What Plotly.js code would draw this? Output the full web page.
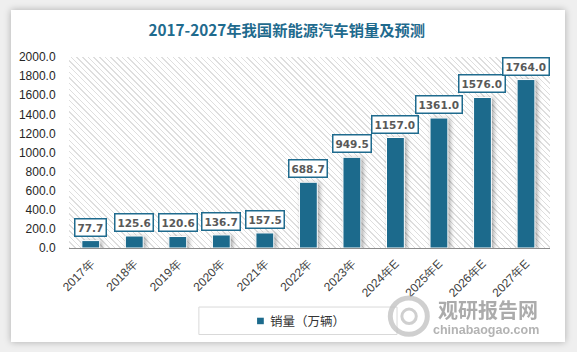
<!DOCTYPE html>
<html>
<head>
<meta charset="utf-8">
<script src="https://cdn.plot.ly/plotly-3.0.1.min.js"></script>
<style>
  html, body { margin:0; padding:0; background:#efefef; width:577px; height:352px; overflow:hidden; }
  #card { position:absolute; left:11px; top:10px; width:554px; height:332px; background:#ffffff;
          box-shadow: 0 0 7px rgba(0,0,0,0.28); }
  #hatch { position:absolute; left:69px; top:57px; width:481px; height:191px;
           background: repeating-linear-gradient(45deg, #d6d6d6 0px, #d6d6d6 1px, rgba(255,255,255,0) 1px, rgba(255,255,255,0) 4px); opacity:0.8; }
  #chart { position:absolute; left:0; top:0; width:577px; height:352px; }
  #chart .bars .point path { filter: drop-shadow(2px 1px 2px rgba(0,0,0,0.35)); }
</style>
</head>
<body>
<div id="card"></div>
<div id="hatch"></div>
<div id="chart"></div>
<script>
const categories = ["2017年","2018年","2019年","2020年","2021年","2022年","2023年","2024年E","2025年E","2026年E","2027年E"];
const sales = [77.7, 125.6, 120.6, 136.7, 157.5, 688.7, 949.5, 1157.0, 1361.0, 1576.0, 1764.0];
const seriesName = "销量（万辆）";
const titleText = "2017-2027年我国新能源汽车销量及预测";

const barColor = "#1c6a8c";

const trace = {
  type: "bar",
  x: categories,
  y: sales,
  name: seriesName,
  width: 0.41,
  marker: { color: barColor, line: { color: "#ffffff", width: 1 } },
  showlegend: false,
  hoverinfo: "x+y"
};

const labelAnns = categories.map((c, i) => ({
  x: c, y: sales[i], xref: "x", yref: "y",
  text: sales[i].toFixed(1),
  showarrow: false, yanchor: "bottom", yshift: 4,
  font: { family: "DejaVu Sans", size: 10.5, color: "#595959", weight: "bold" },
  bgcolor: "#ffffff", bordercolor: "#1f6b8e", borderwidth: 1.5, borderpad: 2
}));

const legendAnn = {
  xref: "paper", yref: "paper", x: 0.414, y: -0.38, xanchor: "left", yanchor: "middle",
  text: seriesName, showarrow: false,
  font: { family: "Noto Sans CJK SC", size: 12.5, color: "#333333" }
};

const wm = [
  { xref: "paper", yref: "paper", x: 0.871, y: -0.322, text: "<b>观研报告网</b>", showarrow: false,
    font: { family: "Noto Sans CJK SC", size: 20, color: "#a3a3a3" }, xanchor: "center", yanchor: "middle", opacity: 0.9 },
  { xref: "paper", yref: "paper", x: 0.866, y: -0.43, text: "<b>chinabaogao.com</b>", showarrow: false,
    font: { family: "Liberation Sans", size: 12.5, color: "#ababab" }, xanchor: "center", yanchor: "middle", opacity: 0.9 }
];

const layout = {
  width: 577, height: 352,
  margin: { l: 69, r: 27, t: 57, b: 104 },
  paper_bgcolor: "rgba(0,0,0,0)",
  plot_bgcolor: "rgba(0,0,0,0)",
  title: {
    text: "<b>" + titleText + "</b>",
    x: 0.497, xref: "container", xanchor: "center",
    y: 0.912, yref: "container", yanchor: "middle",
    font: { family: "Noto Sans CJK SC", size: 15.3, color: "#1f6b8e" }
  },
  xaxis: {
    type: "category",
    tickangle: -45,
    tickfont: { family: "Liberation Sans", size: 12, color: "#404040" },
    showline: true, linecolor: "#8c8c8c", linewidth: 1,
    ticks: "outside", ticklen: 3, tickcolor: "rgba(0,0,0,0)",
    showgrid: false, zeroline: false
  },
  yaxis: {
    range: [0, 2000],
    dtick: 200, tick0: 0,
    tickformat: ".1f",
    tickfont: { family: "Liberation Sans", size: 12, color: "#262626" },
    showline: false, showgrid: false, zeroline: false,
    ticks: "outside", ticklen: 10, tickcolor: "rgba(0,0,0,0)"
  },
  showlegend: false,
  shapes: [
    { type: "rect", xref: "paper", yref: "paper", x0: 0.27, x1: 0.682, y0: -0.309, y1: -0.453,
      line: { color: "#d9d9d9", width: 1 }, fillcolor: "rgba(0,0,0,0)" },
    { type: "rect", xref: "paper", yref: "paper", x0: 0.391, x1: 0.405, y0: -0.365, y1: -0.399,
      line: { width: 0 }, fillcolor: barColor },
    { type: "circle", xref: "paper", yref: "paper", x0: 0.668, x1: 0.745, y0: -0.262, y1: -0.452,
      line: { color: "#c4c4c4", width: 5 }, fillcolor: "rgba(0,0,0,0)", opacity: 0.8 },
    { type: "circle", xref: "paper", yref: "paper", x0: 0.692, x1: 0.722, y0: -0.32, y1: -0.395,
      line: { color: "#c4c4c4", width: 3 }, fillcolor: "rgba(0,0,0,0)", opacity: 0.8 }
  ],
  annotations: labelAnns.concat([legendAnn]).concat(wm),
  bargap: 0.59
};

Plotly.newPlot("chart", [trace], layout, { displayModeBar: false, staticPlot: true });
</script>
</body>
</html>
